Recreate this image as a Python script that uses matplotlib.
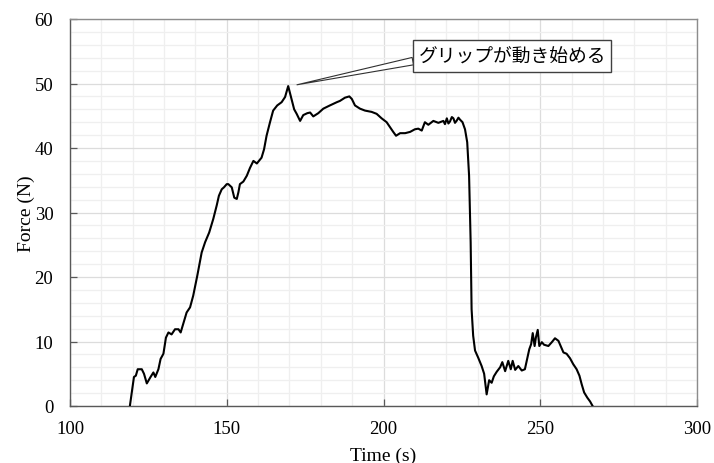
import matplotlib
matplotlib.use("Agg")
import matplotlib.pyplot as plt
from matplotlib.ticker import MultipleLocator

# Measured force trace
time_s = [119.1, 120.4, 121.0, 121.6, 122.9, 123.6, 124.5, 125.7, 126.6, 127.2,
          128.2, 128.9, 129.8, 130.6, 131.4, 132.4, 133.5, 134.6, 135.3, 136.1,
          137.2, 138.3, 139.3, 140.6, 142.0, 143.1, 144.4, 145.7, 146.8, 147.5,
          148.4, 149.1, 150.0, 150.5, 151.6, 152.4, 153.2, 153.7, 154.2, 155.3,
          156.4, 157.4, 158.5, 159.6, 161.1, 161.9, 162.7, 163.8, 164.8, 166.1,
          167.5, 168.6, 169.6, 170.4, 171.5, 172.3, 173.4, 174.4, 175.7, 176.6,
          177.6, 179.2, 180.8, 182.9, 185.1, 186.1, 187.7, 189.1, 189.9, 190.9,
          192.5, 194.1, 196.2, 197.8, 199.4, 201.0, 202.1, 203.1, 204.0, 205.3,
          206.9, 208.5, 210.0, 211.1, 212.2, 213.2, 214.3, 215.9, 217.5, 219.1,
          219.6, 220.2, 220.7, 221.2, 221.8, 222.3, 222.8, 223.3, 223.9, 224.4,
          225.2, 226.0, 226.7, 227.3, 227.8, 228.1, 228.6, 229.2, 230.2, 231.3,
          232.1, 232.9, 233.7, 234.5, 235.2, 236.1, 237.2, 237.9, 238.8, 239.8,
          240.6, 241.2, 242.0, 243.0, 244.1, 245.1, 245.9, 246.5, 247.1, 247.6,
          248.2, 248.6, 249.2, 249.7, 250.5, 251.2, 252.6, 253.7, 254.7, 255.8,
          256.5, 257.4, 258.4, 259.5, 260.5, 261.6, 262.5, 263.2, 264.0, 265.0,
          265.9, 266.7]
force_n = [0.0, 4.5, 4.7, 5.7, 5.7, 5.0, 3.5, 4.5, 5.2, 4.5,
           5.7, 7.3, 8.1, 10.6, 11.4, 11.1, 11.9, 11.9, 11.4, 12.7,
           14.5, 15.3, 17.1, 20.2, 23.8, 25.4, 26.9, 29.0, 31.1, 32.6,
           33.6, 33.9, 34.4, 34.4, 33.9, 32.3, 32.1, 33.1, 34.4, 34.8,
           35.7, 36.9, 38.0, 37.6, 38.5, 39.8, 41.9, 44.0, 45.8, 46.6,
           47.1, 47.9, 49.6, 48.1, 46.0, 45.3, 44.2, 45.1, 45.4, 45.5,
           44.9, 45.4, 46.1, 46.6, 47.1, 47.3, 47.8, 48.0, 47.6, 46.6,
           46.1, 45.8, 45.6, 45.3, 44.6, 44.0, 43.2, 42.5, 41.9, 42.3,
           42.3, 42.5, 42.9, 43.0, 42.7, 44.0, 43.6, 44.2, 43.9, 44.2,
           43.7, 44.6, 43.8, 44.1, 44.8, 44.6, 43.9, 44.2, 44.7, 44.4,
           44.0, 42.9, 40.9, 35.7, 25.4, 15.0, 10.9, 8.6, 7.5, 6.2,
           5.0, 1.8, 4.0, 3.6, 4.6, 5.3, 6.0, 6.8, 5.4, 7.0,
           5.7, 7.0, 5.6, 6.2, 5.5, 5.7, 7.5, 8.8, 9.6, 11.3,
           9.3, 10.6, 11.8, 9.3, 9.9, 9.5, 9.3, 9.9, 10.5, 10.1,
           9.3, 8.3, 8.1, 7.4, 6.5, 5.7, 4.7, 3.4, 2.1, 1.3,
           0.7, 0.0]

x_ticks = [100, 150, 200, 250, 300]
y_ticks = [0, 10, 20, 30, 40, 50, 60]

note_text = "グリップが動き始める"
note_point = (172.4, 49.8)
note_pos = (241.1, 54.3)

serif = ["Liberation Serif", "DejaVu Serif"]

fig = plt.figure(figsize=(7.14, 4.64), dpi=100)
ax = fig.add_axes([70 / 714, 57 / 464, 627 / 714, 387 / 464])

ax.plot(time_s, force_n, color="black", lw=1.5, zorder=3)

ax.set_xlim(100, 300)
ax.set_ylim(0, 60)
ax.set_xticks(x_ticks)
ax.set_yticks(y_ticks)
ax.xaxis.set_minor_locator(MultipleLocator(10))
ax.yaxis.set_minor_locator(MultipleLocator(2))

ax.grid(which="major", color="#dcdcdc", lw=0.9)
ax.grid(which="minor", color="#efefef", lw=0.9)
ax.set_axisbelow(True)

ax.tick_params(which="major", direction="in", length=5, width=0.9,
               color="#595959", labelsize=13.5, pad=12)
ax.tick_params(axis="x", pad=10)
ax.tick_params(which="minor", length=0)
for lab in ax.get_xticklabels() + ax.get_yticklabels():
    lab.set_family(serif)

for side in ("left", "bottom"):
    ax.spines[side].set_color("#595959")
    ax.spines[side].set_linewidth(1.0)
for side in ("top", "right"):
    ax.spines[side].set_color("#8c8c8c")
    ax.spines[side].set_linewidth(1.0)

ax.set_xlabel("Time (s)", family=serif, fontsize=14, labelpad=7)
ax.set_ylabel("Force (N)", family=serif, fontsize=14, labelpad=0)

ax.annotate(note_text, xy=note_point, xytext=note_pos,
            fontsize=13.5, family=["Noto Sans CJK JP", "DejaVu Sans"],
            ha="center", va="center",
            bbox=dict(boxstyle="square,pad=0.28", fc="white", ec="#404040", lw=1.0),
            arrowprops=dict(arrowstyle="wedge,tail_width=0.4", fc="white",
                            ec="#303030", lw=0.8, shrinkA=0, shrinkB=0,
                            relpos=(0.0, 0.3)),
            zorder=5)

fig.savefig("out.png", dpi=100)
